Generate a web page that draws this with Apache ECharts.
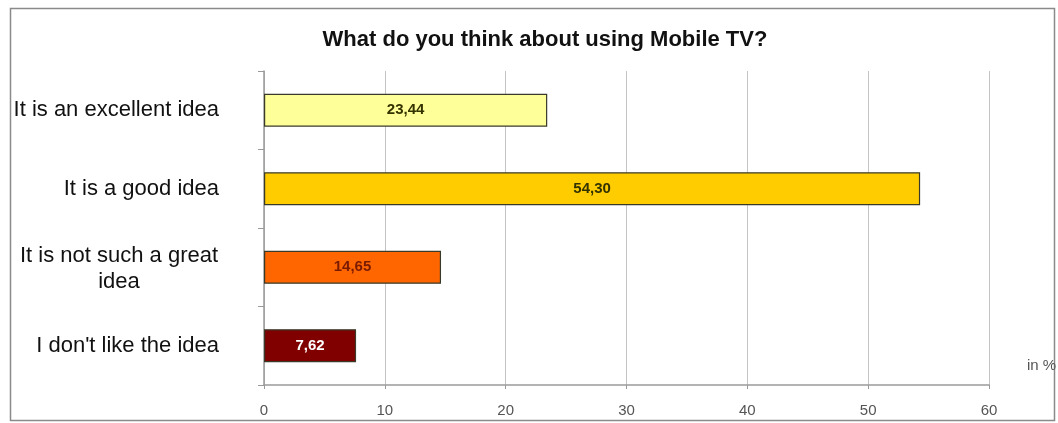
<!DOCTYPE html>
<html>
<head>
<meta charset="utf-8">
<style>
  html, body { margin: 0; padding: 0; background: #ffffff; }
  #chart { width: 1058px; height: 423px; }
</style>
<script src="https://cdn.jsdelivr.net/npm/echarts@6/dist/echarts.min.js"></script>
</head>
<body>
<div id="chart"></div>
<script>
// Survey answers, top to bottom
const categories = [
  'It is an excellent idea',
  'It is a good idea',
  'It is not such a great\nidea',
  "I don't like the idea"
];
const shares = [23.44, 54.30, 14.65, 7.62];
const barColors = ['#FFFF99', '#FFCC00', '#FF6600', '#800000'];
const labelColors = ['#333300', '#333300', '#7a1a00', '#ffffff'];
const xTicks = [0, 10, 20, 30, 40, 50, 60];

const FONT = 'Liberation Sans, Arial, sans-serif';
const chart = echarts.init(document.getElementById('chart'));

// ECharts draws category axes bottom-up, so reverse for display order
const order = categories.map((_, i) => i).reverse();

chart.setOption({
  animation: false,
  backgroundColor: '#ffffff',
  title: {
    text: 'What do you think about using Mobile TV?',
    left: 540,
    top: 24,
    textAlign: 'center',
    textStyle: { fontFamily: FONT, fontSize: 22, fontWeight: 'bold', color: '#111' }
  },
  graphic: [
    {
      type: 'rect',
      shape: { x: 10.5, y: 8.5, width: 1044, height: 412 },
      style: { fill: 'none', stroke: '#8a8a8a', lineWidth: 1.5 },
      z: 0
    },
    {
      type: 'text',
      left: 1027,
      top: 358,
      style: { text: 'in %', fontFamily: FONT, fontSize: 15, fill: '#555' }
    }
  ],
  grid: { left: 264, right: 69, top: 71, bottom: 38 },
  xAxis: {
    type: 'value',
    min: xTicks[0],
    max: xTicks[xTicks.length - 1],
    interval: xTicks[1] - xTicks[0],
    axisLine: { show: true, lineStyle: { color: '#9a9a9a', width: 1.5 } },
    axisTick: { show: true, length: 4, lineStyle: { color: '#9a9a9a' } },
    splitLine: { show: true, lineStyle: { color: '#c4c4c4', width: 1 } },
    axisLabel: { margin: 18, fontFamily: FONT, fontSize: 15, color: '#555' }
  },
  yAxis: {
    type: 'category',
    data: order.map(i => categories[i]),
    axisLine: { show: true, lineStyle: { color: '#9a9a9a', width: 1.5 } },
    axisTick: { show: true, length: 6, lineStyle: { color: '#9a9a9a' } },
    axisLabel: {
      margin: 45,
      fontFamily: FONT,
      fontSize: 22,
      color: '#111',
      align: 'right',
      formatter: function (v) {
        const parts = v.split('\n');
        if (parts.length === 1) return v;
        return parts.map(p => '{c|' + p + '}').join('\n');
      },
      rich: {
        c: { width: 200, align: 'center', fontSize: 22, lineHeight: 26, padding: [3, 0, 0, 0], color: '#111', fontFamily: FONT }
      }
    }
  },
  series: [{
    type: 'bar',
    barWidth: 33,
    data: order.map(i => ({
      value: shares[i],
      itemStyle: { color: barColors[i], borderColor: '#3a3a2a', borderWidth: 1.2 },
      label: { color: labelColors[i] }
    })),
    label: {
      show: true,
      position: 'inside',
      fontFamily: FONT,
      fontSize: 15,
      fontWeight: 'bold',
      formatter: p => p.value.toFixed(2).replace('.', ',')
    }
  }]
});
</script>
</body>
</html>
